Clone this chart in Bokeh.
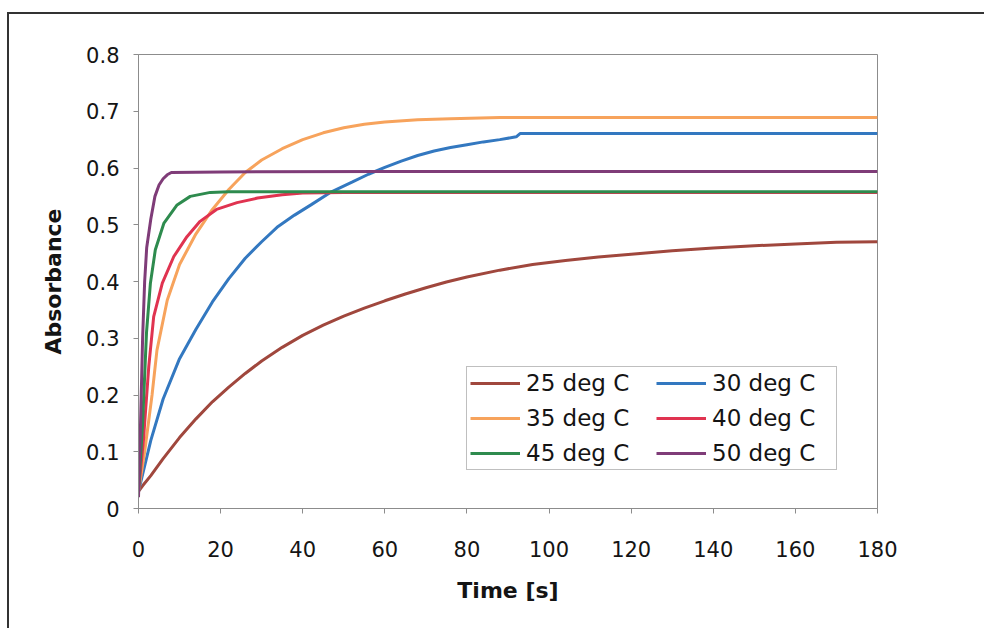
from bokeh.plotting import figure
from bokeh.models import Range1d, FixedTicker, Legend, LegendItem
from bokeh.embed import file_html
from bokeh.resources import INLINE

# ---- data ----
t25 = [0, 1, 3, 6, 10, 14, 18, 22, 26, 30, 35, 40, 45, 50, 55, 60, 65, 70, 75, 80,
       88, 96, 104, 112, 120, 130, 140, 150, 160, 170, 180]
a25 = [0.03, 0.04, 0.058, 0.088, 0.125, 0.158, 0.188, 0.214, 0.238, 0.26, 0.284, 0.305,
       0.323, 0.339, 0.353, 0.366, 0.378, 0.389, 0.399, 0.408, 0.42, 0.43, 0.437,
       0.443, 0.448, 0.454, 0.459, 0.463, 0.466, 0.469, 0.47]

t30 = [0, 1, 3, 6, 10, 14, 18, 22, 26, 30, 34, 38, 42, 47, 52, 56, 60, 64, 68, 72,
       76, 80, 84, 88, 92, 93, 100, 120, 140, 160, 180]
a30 = [0.03, 0.06, 0.12, 0.193, 0.264, 0.316, 0.364, 0.405, 0.441, 0.47, 0.497, 0.517,
       0.535, 0.558, 0.575, 0.589, 0.601, 0.612, 0.622, 0.63, 0.636, 0.641, 0.646,
       0.65, 0.655, 0.661, 0.661, 0.661, 0.661, 0.661, 0.661]

t35 = [0, 1.5, 3.3, 4.5, 7, 10, 14, 18, 22, 26, 30, 35, 40, 45, 50, 55, 60, 68, 76,
       88, 100, 120, 140, 160, 180]
a35 = [0.03, 0.1, 0.2, 0.279, 0.367, 0.43, 0.484, 0.527, 0.562, 0.592, 0.614, 0.634,
       0.65, 0.662, 0.671, 0.677, 0.681, 0.685, 0.687, 0.689, 0.689, 0.689, 0.689,
       0.689, 0.689]

t40 = [0, 1.2, 2.5, 3.7, 5.8, 8.6, 11.8, 15, 19, 24, 29, 35, 40, 50, 60, 80, 100, 140, 180]
a40 = [0.03, 0.12, 0.25, 0.338, 0.397, 0.444, 0.479, 0.506, 0.527, 0.539, 0.547, 0.553,
       0.556, 0.557, 0.557, 0.557, 0.557, 0.557, 0.557]

t45 = [0, 1, 1.95, 2.9, 4.1, 6.2, 9.4, 12.6, 17.5, 22, 30, 60, 100, 140, 180]
a45 = [0.03, 0.15, 0.31, 0.397, 0.456, 0.503, 0.535, 0.55, 0.557, 0.558, 0.558, 0.558,
       0.558, 0.558, 0.558]

t50 = [0, 0.5, 1, 1.5, 2, 3, 4, 5, 6, 7, 8, 20, 60, 100, 140, 180]
a50 = [0.02, 0.15, 0.3, 0.4, 0.46, 0.51, 0.55, 0.57, 0.581, 0.588, 0.592, 0.593, 0.594,
       0.594, 0.594, 0.594]

series_names = ["25 deg C", "30 deg C", "35 deg C", "40 deg C", "45 deg C", "50 deg C"]
series_colors = ["#A0473D", "#3378C0", "#F7A35C", "#E03350", "#2E8B4E", "#7F3C78"]

x_ticks = [0, 20, 40, 60, 80, 100, 120, 140, 160, 180]
y_ticks = [0, 0.1, 0.2, 0.3, 0.4, 0.5, 0.6, 0.7, 0.8]

x_title = "Time [s]"
y_title = "Absorbance"

# ---- figure ----
p = figure(width=977, height=616, output_backend="svg", toolbar_location=None,
           x_range=Range1d(0, 180), y_range=Range1d(0, 0.8),
           min_border_left=129, min_border_right=109, min_border_top=40,
           min_border_bottom=122)
p.styles = {"margin-left": "7px", "margin-top": "12px",
            "border-left": "2px solid #333333", "border-top": "2px solid #333333"}
p.background_fill_color = "white"
p.border_fill_color = "white"
p.outline_line_color = "#8c8c8c"
p.outline_line_width = 1
p.xgrid.visible = False
p.ygrid.visible = False

FONT = "DejaVu Sans"
for ax in (p.xaxis[0], p.yaxis[0]):
    ax.axis_line_color = "#8c8c8c"
    ax.major_tick_line_color = "#8c8c8c"
    ax.major_tick_out = 5
    ax.major_tick_in = 0
    ax.minor_tick_line_color = None
    ax.major_label_text_font = FONT
    ax.major_label_text_font_size = "21px"
    ax.major_label_text_color = "#141414"
    ax.axis_label_text_font = FONT
    ax.axis_label_text_font_style = "bold"
    ax.axis_label_text_font_size = "22px"
    ax.axis_label_text_color = "#141414"

p.xaxis.ticker = FixedTicker(ticks=x_ticks)
p.yaxis.ticker = FixedTicker(ticks=y_ticks)
p.yaxis.major_label_overrides = {0: "0"}
p.xaxis.axis_label = x_title
p.yaxis.axis_label = y_title
p.xaxis.major_label_standoff = 27
p.yaxis.major_label_standoff = 14
p.xaxis.axis_label_standoff = 18
p.yaxis.axis_label_standoff = 17

data = [(t25, a25), (t30, a30), (t35, a35), (t40, a40), (t45, a45), (t50, a50)]
renderers = []
for (tx, ay), color in zip(data, series_colors):
    r = p.line(tx, ay, line_color=color, line_width=3)
    renderers.append(r)

items = [LegendItem(label=n, renderers=[r]) for n, r in zip(series_names, renderers)]
legend = Legend(items=items, orientation="horizontal", ncols=2,
                location=(328, 38))
legend.label_text_font = FONT
legend.label_text_font_size = "23px"
legend.label_text_color = "#141414"
legend.glyph_width = 50
legend.glyph_height = 24
legend.label_height = 24
legend.label_width = 121
legend.label_standoff = 6
legend.spacing = 9
legend.padding = 3
legend.margin = 0
legend.border_line_color = "#7f7f7f"
legend.border_line_width = 1.5
legend.background_fill_color = "white"
legend.background_fill_alpha = 1
p.add_layout(legend, "center")

open("out.html", "w").write(file_html(p, INLINE))
